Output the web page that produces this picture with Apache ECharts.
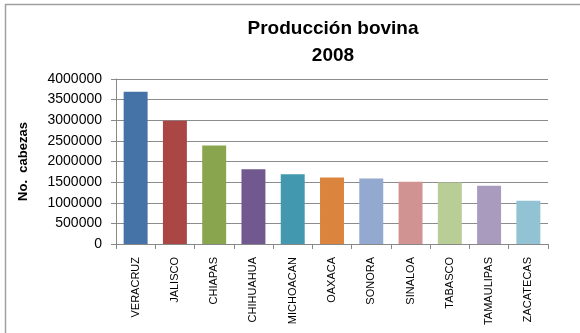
<!DOCTYPE html>
<html>
<head>
<meta charset="utf-8">
<script src="https://cdn.jsdelivr.net/npm/echarts@6/dist/echarts.min.js"></script>
<style>html,body{margin:0;padding:0;background:#fff;}#c{width:580px;height:333px;}</style>
</head>
<body>
<div id="c"></div>
<script>
const categories = ['VERACRUZ','JALISCO','CHIAPAS','CHIHUAHUA','MICHOACAN','OAXACA','SONORA','SINALOA','TABASCO','TAMAULIPAS','ZACATECAS'];
const values = [3690000, 2990000, 2390000, 1810000, 1690000, 1615000, 1590000, 1510000, 1490000, 1415000, 1050000];
const colors = ['#4572A7','#AA4643','#89A54E','#71588F','#4198AF','#DB843D','#93A9CF','#D19392','#B9CD96','#A99BBD','#92C3D4'];
const yTicks = [0, 500000, 1000000, 1500000, 2000000, 2500000, 3000000, 3500000, 4000000];
const titleText = 'Producción bovina\n2008';
const yName = 'No.  cabezas';

const chart = echarts.init(document.getElementById('c'));
chart.setOption({
  animation: false,
  backgroundColor: '#fff',
  graphic: [{
    type: 'rect', shape: {x: 5.5, y: 4.5, width: 700, height: 400},
    style: {fill: 'none', stroke: '#a0a0a0', lineWidth: 1.5}, silent: true
  }],
  title: {
    text: titleText, left: 328, top: 10, textAlign: 'center',
    textStyle: {fontFamily: 'Liberation Sans', fontWeight: 'bold', fontSize: 19, color: '#000', lineHeight: 27}
  },
  grid: {left: 116, right: 32, top: 79, bottom: 89, containLabel: false},
  xAxis: {
    type: 'category', data: categories,
    axisLine: {lineStyle: {color: '#888', width: 1}},
    axisTick: {show: true, alignWithLabel: false, length: 5, lineStyle: {color: '#888'}},
    axisLabel: {rotate: 90, margin: 13, interval: 0, fontFamily: 'Liberation Sans', fontSize: 11, color: '#000'}
  },
  yAxis: {
    type: 'value', min: yTicks[0], max: yTicks[yTicks.length - 1], interval: yTicks[1] - yTicks[0],
    name: yName, nameLocation: 'middle', nameGap: 86, nameRotate: 90,
    nameTextStyle: {fontFamily: 'Liberation Sans', fontWeight: 'bold', fontSize: 13, color: '#000'},
    axisLine: {show: true, lineStyle: {color: '#888', width: 1}},
    axisTick: {show: true, length: 5, lineStyle: {color: '#888'}},
    splitLine: {show: true, lineStyle: {color: '#8c8c8c', width: 1}},
    axisLabel: {margin: 14, fontFamily: 'Liberation Sans', fontSize: 14, color: '#000', formatter: v => String(v)}
  },
  series: [{
    type: 'bar', data: values.map((v, i) => ({value: v, itemStyle: {color: colors[i]}})),
    barCategoryGap: '39%'
  }]
});
</script>
</body>
</html>
